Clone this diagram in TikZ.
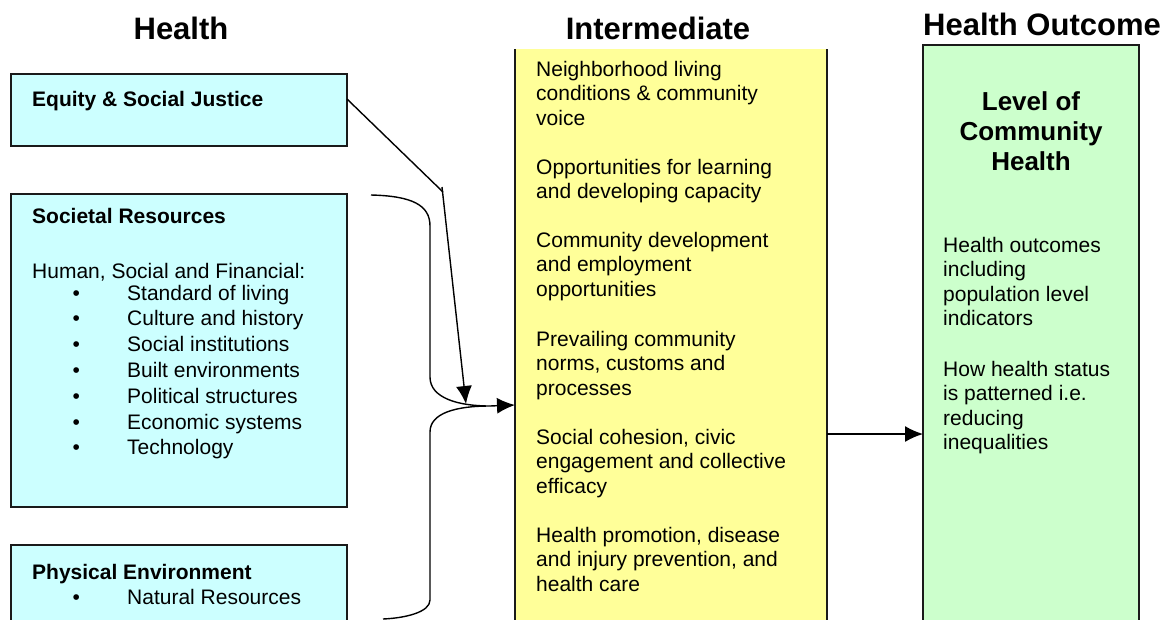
\documentclass[tikz,border=0pt]{standalone}
\usepackage{fontspec}
\setmainfont{Liberation Sans}
\usetikzlibrary{arrows.meta}
\definecolor{cyanbox}{HTML}{CCFFFF}
\definecolor{yelbox}{HTML}{FFFF99}
\definecolor{grnbox}{HTML}{CCFFCC}
\definecolor{edge}{HTML}{1A1A1A}
\newcommand{\bul}{\makebox[56pt][l]{\hspace{1.5pt}•}}
\tikzset{
  box/.style={draw=edge, line width=1.6pt, anchor=north west, inner sep=0pt, outer sep=0pt},
  body/.style={anchor=base west, inner sep=0pt, align=left, font=\fontsize{21}{24.5}\selectfont},
  listtxt/.style={anchor=base west, inner sep=0pt, align=left, font=\fontsize{21}{25.8}\selectfont},
  bhead/.style={anchor=base west, inner sep=0pt, font=\fontsize{21}{24.5}\selectfont\bfseries},
  title/.style={anchor=base, inner sep=0pt, font=\fontsize{31}{34}\selectfont\bfseries},
  conn/.style={line width=1.4pt, draw=black},
  arr/.style={line width=1.4pt, draw=black, -{Latex[length=18pt,width=16pt]}}
}
\begin{document}
\begin{tikzpicture}[x=1pt,y=-1pt]
\useasboundingbox (0,0) rectangle (1173,619);
% titles
\node[title] (t1) at (181,39) {Health};
\node[title] (t2) at (658,39) {Intermediate};
\node[title] (t3) at (1042,35) {Health Outcome};
% left boxes
\node[box, fill=cyanbox, minimum width=336pt, minimum height=72pt] (eq) at (11,74) {};
\node[box, fill=cyanbox, minimum width=336pt, minimum height=313pt] (soc) at (11,194) {};
\node[box, fill=cyanbox, minimum width=336pt, minimum height=90pt] (phys) at (11,545) {};
% middle and right boxes
\node[box, draw=none, fill=yelbox, minimum width=312pt, minimum height=580pt] (yel) at (515,49) {};
\draw[draw=edge, line width=1.6pt] (yel.north west) -- (yel.south west);
\draw[draw=edge, line width=1.6pt] (yel.north east) -- (yel.south east);
\node[box, fill=grnbox, minimum width=216pt, minimum height=590pt] (grn) at (923,45) {};
% left texts (multi-line nodes are placed at the baseline of their last line)
\node[bhead] (eqt) at (32,106) {Equity \& Social Justice};
\node[bhead] (soct) at (32,223) {Societal Resources};
\node[body] (hum) at (32,278) {Human, Social and Financial:};
\node[listtxt] (lst) at (71,454.8) {\bul Standard of living\\\bul Culture and history\\\bul Social institutions\\\bul Built environments\\\bul Political structures\\\bul Economic systems\\\bul Technology};
\node[bhead] (physt) at (32,579) {Physical Environment};
\node[listtxt] (nat) at (71,604) {\bul Natural Resources};
% middle texts
\node[body] (m1) at (536,125) {Neighborhood living\\conditions \& community\\voice};
\node[body] (m2) at (536,198.5) {Opportunities for learning\\and developing capacity};
\node[body] (m3) at (536,296) {Community development\\and employment\\opportunities};
\node[body] (m4) at (536,395) {Prevailing community\\norms, customs and\\processes};
\node[body] (m5) at (536,493) {Social cohesion, civic\\engagement and collective\\efficacy};
\node[body] (m6) at (536,591) {Health promotion, disease\\and injury prevention, and\\health care};
% right texts
\node[anchor=base, inner sep=0pt, align=center, font=\fontsize{26}{30}\selectfont\bfseries] (lvl) at (1031,170) {Level of\\Community\\Health};
\node[body] (r1) at (943,325.5) {Health outcomes\\including\\population level\\indicators};
\node[body] (r2) at (943,449.5) {How health status\\is patterned i.e.\\reducing\\inequalities};
% connectors
\coordinate (bend) at (443,192);
\coordinate (bend2) at (442,187);
\coordinate (etip) at (466,404);
\coordinate (btip) at (490,406);
\coordinate (btop) at (371,195);
\coordinate (bbot) at (383,619);
\coordinate (ylev) at (0,405);
\coordinate (glev) at (0,434);
\draw[conn] (eq.east |- 0,99) -- (bend);
\draw[arr] (bend2) -- (etip);
\draw[conn] (btop) .. controls (412,196) and (430,205) .. (430,226) -- (430,377)
  .. controls (430,398) and (458,406) .. (btip)
  .. controls (456,406) and (430,413) .. (430,432) -- (430,600)
  .. controls (430,612) and (406,618) .. (bbot);
\draw[arr] (btip) -- (yel.west |- ylev);
\draw[arr] (yel.east |- glev) -- (grn.west |- glev);
\end{tikzpicture}
\end{document}
